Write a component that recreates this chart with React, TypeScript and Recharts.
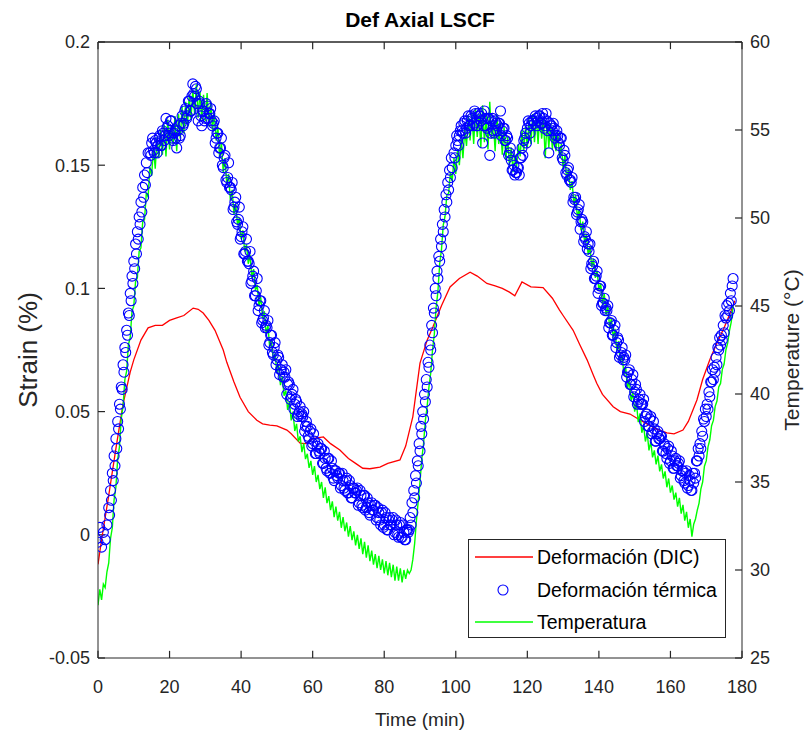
import { ComposedChart, Line, Scatter, XAxis, YAxis, Legend, ReferenceLine } from 'recharts'

const FONT = 'Arial, "Liberation Sans", Helvetica, sans-serif'
const AXIS = '#262626'

const timeTicks = [0, 20, 40, 60, 80, 100, 120, 140, 160, 180]
const strainTicks = [-0.05, 0, 0.05, 0.1, 0.15, 0.2]
const tempTicks = [25, 30, 35, 40, 45, 50, 55, 60]

// inward tick marks are ~7 px long: that is this much in data units
const TICK_MIN = 1.95
const TICK_STRAIN = 0.0029

// Deformación (DIC)
const dicTime = [
  0, 1, 3, 5, 7, 9, 10, 12, 14, 16,
  18, 20, 22, 24, 26.6, 28, 29.4, 31, 32.7, 35,
  36, 38, 39.7, 42, 44.4, 46, 48, 50, 52.8, 54,
  56.5, 58, 60, 63, 65, 67.6, 70, 72, 74, 76,
  78.8, 81, 84.4, 86, 88, 90, 92, 93.6, 96, 98.4,
  101, 104, 106, 108.7, 111, 113, 115, 116.5, 118.5, 121,
  124.4, 127, 129, 130, 132.8, 134.7, 136.7, 138.4, 139.4, 141,
  144, 146, 148.7, 151, 153.4, 156, 159, 161, 163.5, 165,
  167.4, 169, 171, 173, 175, 177, 178,
]
const dicStrain = [
  -0.012, -0.002, 0.016, 0.035, 0.053, 0.066, 0.071, 0.079, 0.084, 0.085,
  0.085, 0.087, 0.088, 0.089, 0.092, 0.0915, 0.09, 0.087, 0.083, 0.075,
  0.07, 0.062, 0.0558, 0.05, 0.0465, 0.045, 0.0445, 0.0442, 0.0425, 0.041,
  0.0372, 0.037, 0.039, 0.0397, 0.037, 0.0344, 0.031, 0.029, 0.027, 0.0268,
  0.0275, 0.029, 0.0304, 0.036, 0.048, 0.0697, 0.079, 0.0843, 0.093, 0.1006,
  0.104, 0.1066, 0.105, 0.102, 0.101, 0.1, 0.0985, 0.097, 0.1026, 0.1006,
  0.1003, 0.096, 0.0912, 0.089, 0.083, 0.077, 0.071, 0.065, 0.0615, 0.057,
  0.052, 0.05, 0.049, 0.047, 0.045, 0.043, 0.0414, 0.041, 0.0425, 0.046,
  0.0547, 0.063, 0.071, 0.0778, 0.084, 0.091, 0.095,
]

// Deformación térmica (circles): readings every 0.5 min (two interleaved sets),
// every 0.25 min on the steep rises
const thermalStart = [-0.003, 0.003, -0.005, 0.001, -0.002, 0.004]
const thermalRise1 = [
  0.011, 0.008, 0.018, 0.014, 0.025, 0.022, 0.032, 0.028,
  0.039, 0.035, 0.046, 0.043, 0.053, 0.051, 0.06, 0.059,
  0.069, 0.066, 0.076, 0.074, 0.083, 0.081, 0.09, 0.089,
  0.098, 0.095, 0.105, 0.102, 0.111, 0.108, 0.118, 0.114,
  0.123, 0.12, 0.129, 0.126, 0.135, 0.131, 0.141, 0.137,
  0.146, 0.142, 0.151, 0.147, 0.155,
]
const thermalCycle1 = [
  0.155, 0.159, 0.156, 0.16, 0.155, 0.161, 0.158, 0.164, 0.16, 0.169,
  0.166, 0.163, 0.168, 0.16, 0.164, 0.157, 0.166, 0.162, 0.17, 0.167,
  0.173, 0.17, 0.176, 0.172, 0.183, 0.178, 0.181, 0.168, 0.175, 0.166,
  0.172, 0.169, 0.174, 0.171, 0.173, 0.166, 0.168, 0.161, 0.163, 0.157,
  0.161, 0.149, 0.154, 0.143, 0.151, 0.141, 0.143, 0.133, 0.137, 0.126,
  0.133, 0.121, 0.125, 0.114, 0.12, 0.111, 0.115, 0.103, 0.107, 0.097,
  0.104, 0.093, 0.095, 0.087, 0.091, 0.085, 0.087, 0.078, 0.081, 0.073,
  0.078, 0.071, 0.072, 0.067, 0.069, 0.066, 0.067, 0.061, 0.061, 0.056,
  0.059, 0.053, 0.054, 0.049, 0.052, 0.049, 0.05, 0.044, 0.044, 0.039,
  0.043, 0.037, 0.038, 0.033, 0.037, 0.033, 0.035, 0.029, 0.031, 0.026,
  0.031, 0.025, 0.027, 0.022, 0.026, 0.023, 0.025, 0.02, 0.022, 0.018,
  0.023, 0.017, 0.02, 0.015, 0.019, 0.017, 0.019, 0.013, 0.016, 0.011,
  0.016, 0.011, 0.013, 0.008, 0.013, 0.01, 0.012, 0.007, 0.009, 0.004,
  0.01, 0.004, 0.007, 0.002, 0.007, 0.004, 0.007, 0.001, 0.004, -0.001,
  0.005, -0.001, 0.001, -0.002, 0.002, 0.002,
]
const thermalCycle1b = [
  0.154, 0.161, 0.155, 0.159, 0.158, 0.162, 0.158, 0.163, 0.162, 0.165,
  0.162, 0.168, 0.161, 0.163, 0.161, 0.164, 0.161, 0.167, 0.166, 0.172,
  0.169, 0.176, 0.172, 0.178, 0.179, 0.182, 0.175, 0.176, 0.17, 0.172,
  0.168, 0.175, 0.169, 0.171, 0.168, 0.167, 0.159, 0.163, 0.155, 0.157,
  0.15, 0.153, 0.144, 0.145, 0.141, 0.14, 0.132, 0.135, 0.127, 0.128,
  0.12, 0.123, 0.114, 0.115, 0.111, 0.11, 0.102, 0.105, 0.097, 0.099,
  0.091, 0.095, 0.086, 0.088, 0.084, 0.084, 0.077, 0.081, 0.074, 0.076,
  0.069, 0.073, 0.065, 0.067, 0.064, 0.064, 0.057, 0.062, 0.055, 0.057,
  0.051, 0.055, 0.048, 0.05, 0.048, 0.048, 0.042, 0.046, 0.04, 0.042,
  0.036, 0.041, 0.033, 0.036, 0.034, 0.035, 0.029, 0.034, 0.027, 0.031,
  0.025, 0.03, 0.023, 0.026, 0.024, 0.025, 0.019, 0.025, 0.019, 0.022,
  0.017, 0.022, 0.015, 0.019, 0.017, 0.018, 0.012, 0.018, 0.012, 0.016,
  0.01, 0.015, 0.009, 0.012, 0.01, 0.012, 0.006, 0.011, 0.006, 0.009,
  0.003, 0.009, 0.002, 0.006, 0.004, 0.006, 0.0, 0.006, 0.0, 0.004,
  -0.001, 0.004, -0.002, 0.002, 0.001,
]
const thermalRise2 = [
  0.007, 0.004, 0.013, 0.009, 0.018, 0.015, 0.024, 0.021,
  0.03, 0.028, 0.037, 0.034, 0.044, 0.041, 0.05, 0.047,
  0.057, 0.054, 0.063, 0.06, 0.07, 0.068, 0.077, 0.075,
  0.085, 0.082, 0.092, 0.09, 0.1, 0.097, 0.107, 0.104,
  0.113, 0.111, 0.12, 0.117, 0.126, 0.123, 0.132, 0.129,
  0.138, 0.135, 0.143, 0.14, 0.148, 0.145, 0.153, 0.149,
]
const thermalCycle2 = [
  0.155, 0.158, 0.16, 0.162, 0.166, 0.163, 0.168, 0.165, 0.17, 0.166,
  0.169, 0.167, 0.171, 0.166, 0.17, 0.168, 0.159, 0.172, 0.166, 0.169,
  0.154, 0.168, 0.164, 0.168, 0.164, 0.167, 0.172, 0.164, 0.165, 0.16,
  0.161, 0.155, 0.152, 0.148, 0.146, 0.147, 0.149, 0.153, 0.157, 0.16,
  0.163, 0.165, 0.167, 0.166, 0.168, 0.167, 0.169, 0.168, 0.17, 0.167,
  0.169, 0.166, 0.168, 0.155, 0.166, 0.164, 0.165, 0.162, 0.162, 0.158,
  0.161, 0.152, 0.154, 0.146, 0.149, 0.144, 0.145, 0.137, 0.137, 0.131,
  0.134, 0.127, 0.127, 0.121, 0.123, 0.118, 0.118, 0.11, 0.111, 0.104,
  0.107, 0.1, 0.101, 0.094, 0.096, 0.092, 0.093, 0.086, 0.087, 0.081,
  0.085, 0.078, 0.079, 0.073, 0.076, 0.072, 0.073, 0.066, 0.067, 0.061,
  0.065, 0.058, 0.059, 0.054, 0.057, 0.053, 0.055, 0.048, 0.049, 0.044,
  0.048, 0.042, 0.043, 0.038, 0.042, 0.039, 0.04, 0.034, 0.036, 0.031,
  0.036, 0.03, 0.032, 0.027, 0.031, 0.028, 0.03, 0.024, 0.026, 0.021,
  0.026, 0.02, 0.022, 0.018,
]
const thermalCycle2b = [
  0.153, 0.162, 0.158, 0.164, 0.164, 0.167, 0.163, 0.168, 0.166, 0.17,
  0.166, 0.172, 0.166, 0.171, 0.17, 0.171, 0.166, 0.169, 0.165, 0.169,
  0.163, 0.169, 0.163, 0.167, 0.166, 0.167, 0.162, 0.165, 0.16, 0.162,
  0.154, 0.157, 0.148, 0.15, 0.147, 0.149, 0.146, 0.153, 0.154, 0.161,
  0.159, 0.168, 0.163, 0.168, 0.168, 0.17, 0.166, 0.17, 0.167, 0.171,
  0.165, 0.171, 0.164, 0.167, 0.166, 0.167, 0.161, 0.164, 0.159, 0.161,
  0.153, 0.156, 0.147, 0.148, 0.144, 0.143, 0.135, 0.136, 0.13, 0.132,
  0.124, 0.128, 0.119, 0.12, 0.116, 0.115, 0.108, 0.109, 0.104, 0.105,
  0.098, 0.101, 0.093, 0.094, 0.091, 0.091, 0.084, 0.086, 0.081, 0.083,
  0.076, 0.08, 0.072, 0.074, 0.071, 0.071, 0.064, 0.066, 0.061, 0.063,
  0.056, 0.061, 0.053, 0.055, 0.053, 0.053, 0.046, 0.049, 0.044, 0.047,
  0.041, 0.046, 0.038, 0.041, 0.039, 0.04, 0.034, 0.037, 0.033, 0.035,
  0.029, 0.034, 0.027, 0.03, 0.028, 0.029, 0.023, 0.026, 0.022, 0.025,
  0.019, 0.024, 0.018,
]
const thermalRise3 = [
  0.025, 0.021, 0.025, 0.023, 0.03, 0.03, 0.035, 0.032,
  0.037, 0.035, 0.042, 0.04, 0.047, 0.046, 0.051, 0.048,
  0.053, 0.051, 0.058, 0.056, 0.062, 0.062, 0.067, 0.063,
  0.068, 0.066, 0.072, 0.069, 0.076, 0.075, 0.08, 0.077,
  0.081, 0.079, 0.085, 0.082, 0.089, 0.088, 0.093, 0.089,
  0.094, 0.091, 0.098, 0.095, 0.101, 0.104,
]

const thermalSegments = [
  { start: 0, step: 0.5, values: thermalStart },
  { start: 3, step: 0.25, values: thermalRise1 },
  { start: 14.5, step: 0.5, values: thermalCycle1 },
  { start: 14.75, step: 0.5, values: thermalCycle1b },
  { start: 87.25, step: 0.25, values: thermalRise2 },
  { start: 99.5, step: 0.5, values: thermalCycle2 },
  { start: 99.75, step: 0.5, values: thermalCycle2b },
  { start: 166.25, step: 0.25, values: thermalRise3 },
]

// Temperatura (right axis, °C), one reading every 0.5 min from t = 0
const TEMP_STEP = 0.5
const temperature = [
  28.0, 28.9, 28.3, 29.2, 29.0, 29.9,
  30.4, 31.8, 32.4, 34.0, 34.7, 36.3,
  37.0, 38.6, 39.3, 40.8, 41.3, 42.8,
  43.2, 44.7, 45.0, 46.4, 46.6, 48.1,
  48.3, 49.8, 49.9, 51.4, 51.2, 52.9,
  52.4, 54.0, 52.8, 54.6, 53.4, 55.0,
  53.6, 55.3, 53.5, 55.6, 53.9, 55.2,
  54.2, 55.8, 53.8, 55.9, 54.5, 56.3,
  54.8, 56.6, 55.2, 57.0, 55.6, 57.3,
  55.9, 57.6, 55.7, 57.2, 55.6, 57.0,
  55.5, 57.1, 55.2, 56.6, 55.0, 56.0,
  54.4, 55.2, 53.4, 54.3, 52.6, 53.4,
  51.9, 52.5, 51.0, 51.6, 50.2, 50.8,
  49.6, 50.0, 48.8, 49.3, 48.1, 48.5,
  47.4, 47.9, 46.6, 47.1, 45.9, 46.2,
  45.0, 45.5, 44.3, 44.7, 43.4, 43.9,
  42.6, 43.1, 41.9, 42.3, 41.2, 41.6,
  40.5, 41.0, 39.9, 40.2, 39.1, 39.6,
  38.5, 39.0, 37.9, 38.3, 37.3, 37.6,
  36.7, 37.2, 36.3, 36.6, 35.8, 36.2,
  35.4, 35.9, 35.0, 35.4, 34.6, 35.0,
  34.1, 34.7, 33.8, 34.2, 33.4, 33.9,
  33.0, 33.6, 32.8, 33.3, 32.4, 33.0,
  32.2, 32.7, 31.9, 32.5, 31.7, 32.2,
  31.4, 32.0, 31.2, 31.8, 30.9, 31.6,
  30.7, 31.4, 30.5, 31.1, 30.3, 30.9,
  30.1, 30.8, 30.0, 30.6, 29.8, 30.5,
  29.7, 30.4, 29.6, 30.3, 29.4, 30.2,
  29.4, 30.1, 29.3, 30.0, 29.5, 30.0,
  29.8, 30.0, 30.6, 31.5, 32.8, 33.9,
  35.0, 36.3, 37.2, 38.5, 39.3, 40.4,
  41.2, 42.5, 43.4, 44.9, 45.8, 47.4,
  48.2, 49.6, 50.1, 51.3, 51.4, 52.6,
  52.1, 53.4, 52.5, 53.9, 53.0, 54.5,
  53.4, 55.0, 54.1, 55.8, 54.4, 56.0,
  54.2, 56.2, 54.6, 55.9, 54.0, 56.4,
  54.3, 55.8, 53.9, 56.6, 54.5, 55.5,
  53.8, 55.9, 54.2, 55.4, 53.6, 55.2,
  53.3, 54.6, 53.0, 54.0, 52.6, 53.6,
  52.9, 54.2, 53.5, 55.0, 53.8, 55.2,
  54.0, 55.6, 54.2, 55.9, 54.3, 55.8,
  54.2, 56.0, 54.5, 55.7, 53.4, 55.5,
  54.0, 55.4, 53.9, 55.1, 53.8, 54.9,
  53.4, 54.2, 52.8, 53.6, 52.1, 52.8,
  51.6, 52.1, 50.8, 51.3, 50.0, 50.5,
  49.3, 49.8, 48.6, 49.1, 47.9, 48.4,
  47.2, 47.7, 46.6, 47.0, 45.9, 46.3,
  45.1, 45.7, 44.5, 45.0, 43.8, 44.3,
  43.2, 43.7, 42.5, 43.0, 41.8, 42.2,
  41.1, 41.5, 40.3, 40.8, 39.6, 40.1,
  39.0, 39.5, 38.4, 38.9, 37.8, 38.2,
  37.3, 37.8, 36.8, 37.3, 36.4, 36.8,
  36.0, 36.5, 35.6, 36.0, 35.2, 35.6,
  34.7, 35.2, 34.4, 34.8, 34.0, 34.4,
  33.6, 34.1, 33.2, 33.7, 32.8, 33.3,
  32.4, 32.9, 31.9, 32.6, 32.9, 33.4,
  33.8, 34.6, 35.0, 35.9, 36.2, 37.0,
  37.4, 38.2, 38.5, 39.3, 39.6, 40.4,
  40.6, 41.4, 41.7, 42.5, 42.9, 43.6,
  44.1, 45.0,
]

const dicData = dicTime.map((t, i) => ({ t, strain: dicStrain[i] }))
const thermalData = thermalSegments.flatMap((seg) =>
  seg.values.map((v, i) => ({ t: seg.start + i * seg.step, strain: v })),
)
const tempData = temperature.map((v, i) => ({ t: i * TEMP_STEP, temp: v }))

const legendItems = [
  { label: 'Deformación (DIC)', color: '#ff0000', kind: 'line' },
  { label: 'Deformación térmica', color: '#0000ff', kind: 'ring' },
  { label: 'Temperatura', color: '#00ff00', kind: 'line' },
]

function Ring(props: any) {
  const { cx, cy } = props
  if (cx == null || cy == null) return null
  return <circle cx={cx} cy={cy} r={5} fill="none" stroke="#0000ff" strokeWidth={1.1} />
}

const tickStyle = { fill: AXIS, fontSize: 18, fontFamily: FONT }

function LegendBox() {
  return (
    <div
      style={{
        width: 258,
        height: 99,
        boxSizing: 'border-box',
        border: `1px solid ${AXIS}`,
        background: '#fff',
        position: 'relative',
        fontFamily: FONT,
        fontSize: 19.5,
        color: '#000',
      }}
    >
      {legendItems.map((item, i) => (
        <div
          key={item.label}
          style={{ position: 'absolute', left: 0, top: 1 + i * 32.5, height: 32, display: 'flex', alignItems: 'center' }}
        >
          <svg width={68} height={32} style={{ display: 'block' }}>
            {item.kind === 'line' ? (
              <line x1={6} x2={64} y1={16} y2={16} stroke={item.color} strokeWidth={1.5} />
            ) : (
              <circle cx={34} cy={16} r={5} fill="none" stroke={item.color} strokeWidth={1.1} />
            )}
          </svg>
          <span style={{ whiteSpace: 'nowrap', lineHeight: '32px' }}>{item.label}</span>
        </div>
      ))}
    </div>
  )
}

const renderTitle = (props: any) => {
  const vb = props.viewBox
  return (
    <text x={vb.x + vb.width / 2} y={vb.y - 14} textAnchor="middle" fontFamily={FONT} fontSize={21} fontWeight="bold" fill="#000">
      Def Axial LSCF
    </text>
  )
}

const renderTimeTitle = (props: any) => {
  const vb = props.viewBox
  return (
    <text x={vb.x + vb.width / 2} y={vb.y + 68} textAnchor="middle" fontFamily={FONT} fontSize={19} fill={AXIS}>
      Time (min)
    </text>
  )
}

const renderStrainTitle = (props: any) => {
  const vb = props.viewBox
  const x = vb.x + 37
  const y = vb.y + vb.height / 2
  return (
    <text x={x} y={y} transform={`rotate(-90 ${x} ${y})`} textAnchor="middle" fontFamily={FONT} fontSize={26} fill={AXIS}>
      Strain (%)
    </text>
  )
}

const renderTempTitle = (props: any) => {
  const vb = props.viewBox
  const x = vb.x + 57
  const y = vb.y + vb.height / 2
  return (
    <text x={x} y={y} transform={`rotate(-90 ${x} ${y})`} textAnchor="middle" fontFamily={FONT} fontSize={21} fill={AXIS}>
      Temperature (°C)
    </text>
  )
}

export default function App() {
  return (
    <div style={{ position: 'absolute', left: 0, top: 0, width: 806, height: 737, background: '#fff' }}>
      <ComposedChart width={806} height={737} margin={{ top: 41, right: 0, bottom: 0, left: 0 }}>
        <XAxis
          xAxisId="bottom"
          dataKey="t"
          type="number"
          domain={[0, 180]}
          ticks={timeTicks}
          interval={0}
          allowDataOverflow
          height={79}
          stroke={AXIS}
          tickLine={false}
          tickSize={0}
          tickMargin={22}
          tick={tickStyle}
          label={renderTimeTitle}
        />
        <XAxis
          xAxisId="top"
          orientation="top"
          dataKey="t"
          type="number"
          domain={[0, 180]}
          ticks={timeTicks}
          allowDataOverflow
          height={1}
          stroke={AXIS}
          tickLine={false}
          tick={false}
          label={renderTitle}
        />
        <YAxis
          yAxisId="strain"
          type="number"
          domain={[-0.05, 0.2]}
          ticks={strainTicks}
          interval={0}
          allowDataOverflow
          width={98}
          stroke={AXIS}
          tickLine={false}
          tickSize={0}
          tickMargin={8}
          tick={tickStyle}
          tickFormatter={(v) => String(v)}
          label={renderStrainTitle}
        />
        <YAxis
          yAxisId="temp"
          orientation="right"
          type="number"
          domain={[25, 60]}
          ticks={tempTicks}
          interval={0}
          allowDataOverflow
          width={64}
          stroke={AXIS}
          tickLine={false}
          tickSize={0}
          tickMargin={8}
          tick={tickStyle}
          label={renderTempTitle}
        />
        <ReferenceLine xAxisId="bottom" yAxisId="strain" y={0.2} stroke={AXIS} ifOverflow="visible" />
        {timeTicks.map((t) => (
          <ReferenceLine
            key={`b${t}`}
            xAxisId="bottom"
            yAxisId="strain"
            segment={[{ x: t, y: -0.05 }, { x: t, y: -0.05 + TICK_STRAIN }]}
            stroke={AXIS}
            strokeWidth={1.2}
            ifOverflow="visible"
          />
        ))}
        {timeTicks.map((t) => (
          <ReferenceLine
            key={`t${t}`}
            xAxisId="bottom"
            yAxisId="strain"
            segment={[{ x: t, y: 0.2 }, { x: t, y: 0.2 - TICK_STRAIN }]}
            stroke={AXIS}
            strokeWidth={1.2}
            ifOverflow="visible"
          />
        ))}
        {strainTicks.map((s) => (
          <ReferenceLine
            key={`l${s}`}
            xAxisId="bottom"
            yAxisId="strain"
            segment={[{ x: 0, y: s }, { x: TICK_MIN, y: s }]}
            stroke={AXIS}
            strokeWidth={1.2}
            ifOverflow="visible"
          />
        ))}
        {tempTicks.map((v) => (
          <ReferenceLine
            key={`r${v}`}
            xAxisId="bottom"
            yAxisId="temp"
            segment={[{ x: 180 - TICK_MIN, y: v }, { x: 180, y: v }]}
            stroke={AXIS}
            strokeWidth={1.2}
            ifOverflow="visible"
          />
        ))}
        <Line
          data={dicData}
          xAxisId="bottom"
          yAxisId="strain"
          dataKey="strain"
          type="linear"
          stroke="#ff0000"
          strokeWidth={1.3}
          dot={false}
          activeDot={false}
          isAnimationActive={false}
        />
        <Scatter
          data={thermalData}
          xAxisId="bottom"
          yAxisId="strain"
          dataKey="strain"
          shape={Ring}
          isAnimationActive={false}
        />
        <Line
          data={tempData}
          xAxisId="bottom"
          yAxisId="temp"
          dataKey="temp"
          type="linear"
          stroke="#00ff00"
          strokeWidth={1.4}
          dot={false}
          activeDot={false}
          isAnimationActive={false}
        />
        <Legend
          layout="vertical"
          align="center"
          verticalAlign="middle"
          content={() => <LegendBox />}
          wrapperStyle={{ left: 468, top: 539, width: 258, height: 99 }}
        />
      </ComposedChart>
    </div>
  )
}
